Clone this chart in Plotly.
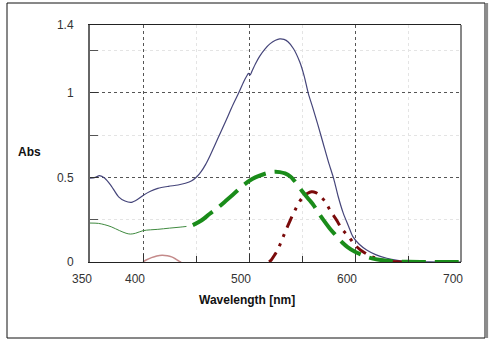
import plotly.graph_objects as go

# ---- data ----
blue_wl = [350, 355, 359, 364, 370, 377, 383, 389, 395, 400, 407, 414, 424, 433, 440, 446, 451, 455, 459, 463,
           467, 471, 475, 480, 485, 490, 495, 498, 499.5, 501, 503, 506, 510, 515, 520, 525, 529, 533, 537, 542, 548,
           552, 556, 560, 565, 570, 575, 580, 584, 589, 594, 598, 604, 611, 620, 630, 640, 650, 660, 680, 700]
blue_abs = [0.495, 0.50, 0.51, 0.495, 0.45, 0.385, 0.36, 0.352, 0.37, 0.393, 0.418, 0.435, 0.447, 0.455, 0.465, 0.48,
            0.505, 0.535, 0.575, 0.625, 0.68, 0.735, 0.79, 0.86, 0.93, 0.995, 1.065, 1.1, 1.115, 1.105, 1.13, 1.17,
            1.215, 1.258, 1.29, 1.31, 1.318, 1.315, 1.30, 1.26, 1.18, 1.10, 0.995, 0.915, 0.81, 0.70, 0.59, 0.49,
            0.39, 0.287, 0.21, 0.15, 0.105, 0.071, 0.042, 0.022, 0.01, 0.003, 0.001, 0.0, 0.0]

green_thin_wl = [350, 358, 364, 370, 378, 384, 388, 393, 400, 407, 414, 425, 435, 441]
green_thin_abs = [0.23, 0.228, 0.22, 0.208, 0.185, 0.17, 0.165, 0.17, 0.185, 0.19, 0.193, 0.2, 0.206, 0.21]

green_wl = [447, 455, 463, 470, 479, 487, 495, 503, 510, 517, 524, 529, 534, 539, 543, 550, 557, 561, 565, 570,
            576, 583, 588, 593, 600, 608, 617, 626, 636, 650, 675, 700]
green_abs = [0.218, 0.245, 0.285, 0.318, 0.366, 0.41, 0.455, 0.49, 0.51, 0.525, 0.533, 0.531, 0.523, 0.505, 0.478,
             0.42, 0.366, 0.335, 0.295, 0.25, 0.2, 0.15, 0.115, 0.088, 0.06, 0.038, 0.02, 0.01, 0.004, 0.001, 0.0, 0.0]

red_wl = [519, 521, 524, 527, 531, 535, 539, 543, 548, 552, 555, 559, 563, 567, 572, 577, 583, 587, 594, 600,
          605, 609, 617, 628, 640, 650]
red_abs = [0.0, 0.012, 0.04, 0.07, 0.13, 0.19, 0.248, 0.30, 0.36, 0.39, 0.405, 0.415, 0.41, 0.39, 0.355, 0.30,
           0.244, 0.20, 0.15, 0.10, 0.072, 0.055, 0.028, 0.008, 0.002, 0.0]

pink_wl = [400, 403, 408, 413, 418, 423, 427, 431, 434, 436]
pink_abs = [0.0, 0.012, 0.026, 0.036, 0.04, 0.037, 0.03, 0.017, 0.005, 0.0]

x_ticks = [350, 400, 500, 600, 700]
x_minor = [450, 550, 650]
y_ticks = [0, 0.5, 1, 1.4]
y_tick_text = ["0", "0.5", "1", "1.4"]
y_minor = [0.25, 0.75, 1.25]

fig = go.Figure()
fig.add_trace(go.Scatter(x=pink_wl, y=pink_abs, mode="lines", line=dict(color="#c48a8a", width=1.5, shape="spline")))
fig.add_trace(go.Scatter(x=green_thin_wl, y=green_thin_abs, mode="lines", line=dict(color="#3f8a3f", width=1, shape="spline")))
fig.add_trace(go.Scatter(x=blue_wl, y=blue_abs, mode="lines",
                         line=dict(color="#45457a", width=1.2, shape="spline", smoothing=0.8)))
fig.add_trace(go.Scatter(x=red_wl, y=red_abs, mode="lines",
                         line=dict(color="#7a0a0a", width=3, dash="12px,7px,3px,7px,3px,7px", shape="spline")))
fig.add_trace(go.Scatter(x=green_wl, y=green_abs, mode="lines",
                         line=dict(color="#1a8c1a", width=4, dash="24px,9px", shape="spline")))

fig.update_layout(
    width=490, height=340,
    margin=dict(l=90, r=29, t=25, b=78),
    paper_bgcolor="white", plot_bgcolor="white",
    showlegend=False,
    font=dict(family="Liberation Sans, Arial, sans-serif", size=12, color="#333"),
)
fig.update_xaxes(
    range=[350, 700], tickvals=x_ticks, ticks="inside", ticklen=8, tickcolor="#333",
    showgrid=True, gridcolor="#555", griddash="dot", gridwidth=1,
    showline=True, linecolor="#222", linewidth=1, mirror=True,
    zeroline=False, ticklabelshift=-8, ticklabelstandoff=6,
    minor=dict(tickvals=x_minor, ticks="inside", ticklen=6, tickcolor="#333",
               showgrid=True, gridcolor="#e4e4e4", gridwidth=1),
)
fig.update_yaxes(
    range=[0, 1.4], tickvals=y_ticks, ticktext=y_tick_text, ticks="inside", ticklen=8, tickcolor="#333",
    showgrid=True, gridcolor="#555", griddash="dot", gridwidth=1,
    showline=True, linecolor="#666", linewidth=2,
    zeroline=False, ticklabelstandoff=12,
    minor=dict(tickvals=y_minor, ticks="inside", ticklen=8, tickcolor="#555",
               showgrid=True, gridcolor="#e4e4e4", gridwidth=1),
)

# plot box right edge
fig.add_shape(type="line", xref="paper", yref="paper", x0=1, x1=1, y0=0, y1=1, line=dict(color="#111", width=1))
# outer frame
fig.add_shape(type="rect", xref="paper", yref="paper", x0=-0.2237, x1=1.0647, y0=-0.3207, y1=1.0928,
              line=dict(color="#111", width=1))
fig.add_shape(type="line", xref="paper", yref="paper", x0=1.069, x1=1.069, y0=-0.3207, y1=1.0928,
              line=dict(color="#8c8c8c", width=3))

fig.add_annotation(text="<b>Abs</b>", xref="paper", yref="paper", x=-0.162, y=0.464, showarrow=False,
                   xanchor="center", yanchor="middle", font=dict(size=12, color="#111"))
fig.add_annotation(text="<b>Wavelength [nm]</b>", xref="paper", yref="paper", x=0.423, y=-0.162, showarrow=False,
                   xanchor="center", yanchor="middle", font=dict(size=12, color="#111"))

fig.write_html("out.html")
